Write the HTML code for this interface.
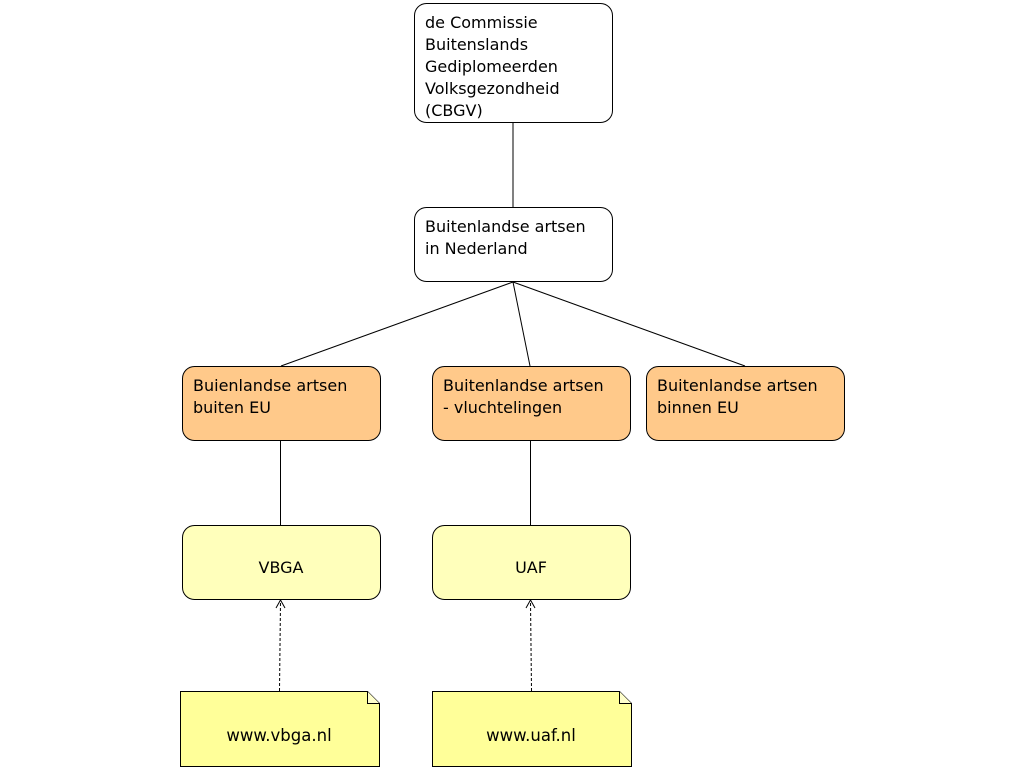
<!DOCTYPE html>
<html><head><meta charset="utf-8"><style>
html,body{margin:0;padding:0;background:#fff;}
svg{display:block}
.t{font-family:"DejaVu Sans",sans-serif;font-size:16px;fill:#000}
.n{font-family:"DejaVu Sans",sans-serif;font-size:16.5px;fill:#000}
</style></head><body>
<svg width="1024" height="768" viewBox="0 0 1024 768" xmlns="http://www.w3.org/2000/svg">
<g stroke="#000" stroke-width="1" fill="none">
<line x1="513" y1="122" x2="513" y2="207"/>
<line x1="513" y1="282" x2="281" y2="366"/>
<line x1="513" y1="282" x2="530" y2="366"/>
<line x1="513" y1="282" x2="745" y2="366"/>
<line x1="280.5" y1="440" x2="280.5" y2="525"/>
<line x1="530.5" y1="440" x2="530.5" y2="525"/>
<line x1="279.5" y1="691" x2="280.5" y2="601" stroke-dasharray="3,2"/>
<line x1="531.5" y1="691" x2="530.5" y2="601" stroke-dasharray="3,2"/>
<polyline points="276,608 280.5,600 285,608"/>
<polyline points="526,608 530.5,600 535,608"/>
</g>
<g stroke="#000" stroke-width="1">
<rect x="414.5" y="3.5" width="198" height="119" rx="12" fill="#fff"/>
<rect x="414.5" y="207.5" width="198" height="74" rx="12" fill="#fff"/>
<rect x="182.5" y="366.5" width="198" height="74" rx="12" fill="#FFC98A"/>
<rect x="432.5" y="366.5" width="198" height="74" rx="12" fill="#FFC98A"/>
<rect x="646.5" y="366.5" width="198" height="74" rx="12" fill="#FFC98A"/>
<rect x="182.5" y="525.5" width="198" height="74" rx="12" fill="#FFFFBB"/>
<rect x="432.5" y="525.5" width="198" height="74" rx="12" fill="#FFFFBB"/>
<path d="M180.5 691.5 H367.5 L379.5 703.5 V766.5 H180.5 Z" fill="#FFFF99"/>
<path d="M367.5 691.5 V703.5 H379.5" fill="#FFFFCC"/>
<path d="M432.5 691.5 H619.5 L631.5 703.5 V766.5 H432.5 Z" fill="#FFFF99"/>
<path d="M619.5 691.5 V703.5 H631.5" fill="#FFFFCC"/>
</g>
<text class="t"><tspan x="425" y="28">de Commissie</tspan><tspan x="425" y="50">Buitenslands</tspan><tspan x="425" y="72">Gediplomeerden</tspan><tspan x="425" y="94">Volksgezondheid</tspan><tspan x="425" y="116">(CBGV)</tspan></text>
<text class="t"><tspan x="425" y="232">Buitenlandse artsen</tspan><tspan x="425" y="254">in Nederland</tspan></text>
<text class="t"><tspan x="193" y="391">Buienlandse artsen</tspan><tspan x="193" y="413">buiten EU</tspan></text>
<text class="t"><tspan x="443" y="391">Buitenlandse artsen</tspan><tspan x="443" y="413">- vluchtelingen</tspan></text>
<text class="t"><tspan x="657" y="391">Buitenlandse artsen</tspan><tspan x="657" y="413">binnen EU</tspan></text>
<text class="t" x="281" y="573" text-anchor="middle">VBGA</text>
<text class="t" x="531" y="573" text-anchor="middle">UAF</text>
<text class="n" x="279" y="741" text-anchor="middle">www.vbga.nl</text>
<text class="n" x="531" y="741" text-anchor="middle">www.uaf.nl</text>
</svg>
</body></html>
